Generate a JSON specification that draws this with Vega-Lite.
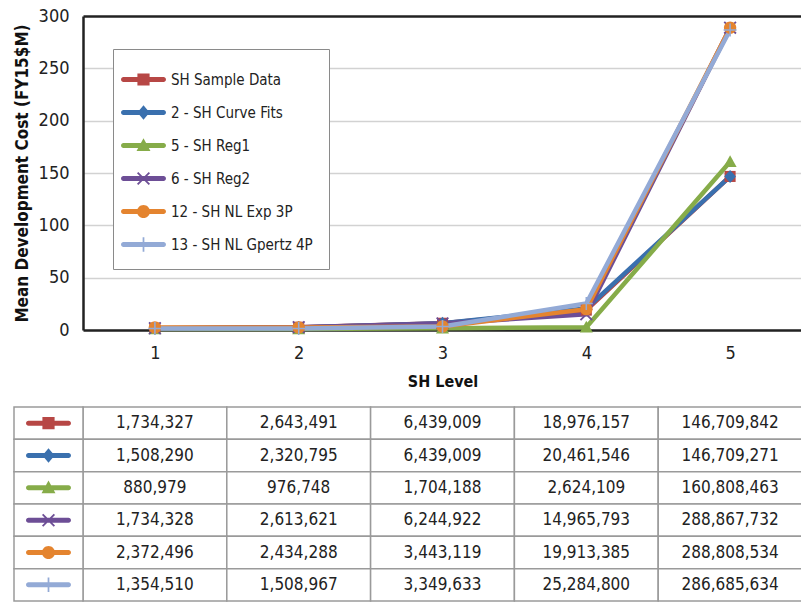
{
  "$schema": "https://vega.github.io/schema/vega-lite/v6.json",
  "padding": {"left": 13, "top": 7, "right": 0, "bottom": 0},
  "spacing": 17,
  "datasets": {
    "costs": [
      {"series": "SH Sample Data", "level": 1, "cost": 1734327},
      {"series": "SH Sample Data", "level": 2, "cost": 2643491},
      {"series": "SH Sample Data", "level": 3, "cost": 6439009},
      {"series": "SH Sample Data", "level": 4, "cost": 18976157},
      {"series": "SH Sample Data", "level": 5, "cost": 146709842},
      {"series": "2 - SH Curve Fits", "level": 1, "cost": 1508290},
      {"series": "2 - SH Curve Fits", "level": 2, "cost": 2320795},
      {"series": "2 - SH Curve Fits", "level": 3, "cost": 6439009},
      {"series": "2 - SH Curve Fits", "level": 4, "cost": 20461546},
      {"series": "2 - SH Curve Fits", "level": 5, "cost": 146709271},
      {"series": "5 - SH Reg1", "level": 1, "cost": 880979},
      {"series": "5 - SH Reg1", "level": 2, "cost": 976748},
      {"series": "5 - SH Reg1", "level": 3, "cost": 1704188},
      {"series": "5 - SH Reg1", "level": 4, "cost": 2624109},
      {"series": "5 - SH Reg1", "level": 5, "cost": 160808463},
      {"series": "6 - SH Reg2", "level": 1, "cost": 1734328},
      {"series": "6 - SH Reg2", "level": 2, "cost": 2613621},
      {"series": "6 - SH Reg2", "level": 3, "cost": 6244922},
      {"series": "6 - SH Reg2", "level": 4, "cost": 14965793},
      {"series": "6 - SH Reg2", "level": 5, "cost": 288867732},
      {"series": "12 - SH NL Exp 3P", "level": 1, "cost": 2372496},
      {"series": "12 - SH NL Exp 3P", "level": 2, "cost": 2434288},
      {"series": "12 - SH NL Exp 3P", "level": 3, "cost": 3443119},
      {"series": "12 - SH NL Exp 3P", "level": 4, "cost": 19913385},
      {"series": "12 - SH NL Exp 3P", "level": 5, "cost": 288808534},
      {"series": "13 - SH NL Gpertz 4P", "level": 1, "cost": 1354510},
      {"series": "13 - SH NL Gpertz 4P", "level": 2, "cost": 1508967},
      {"series": "13 - SH NL Gpertz 4P", "level": 3, "cost": 3349633},
      {"series": "13 - SH NL Gpertz 4P", "level": 4, "cost": 25284800},
      {"series": "13 - SH NL Gpertz 4P", "level": 5, "cost": 286685634}
    ]
  },
  "vconcat": [
    {
      "width": 719,
      "height": 314,
      "data": {"name": "costs"},
      "encoding": {
        "x": {
          "field": "level", "type": "ordinal", "title": "SH Level",
          "axis": {"labelAngle": 0, "domainColor": "#222", "domainWidth": 2.5, "ticks": false, "tickSize": 0,
                   "labelPadding": 14, "labelFontSize": 18, "labelColor": "#222",
                   "titleFontSize": 16, "titleFontWeight": "bold", "titleColor": "#111", "titlePadding": 11}
        },
        "y": {
          "field": "cost", "type": "quantitative", "title": "Mean Development Cost (FY15$M)",
          "scale": {"domain": [0, 300000000], "nice": false},
          "axis": {"values": [0, 50000000, 100000000, 150000000, 200000000, 250000000, 300000000],
                   "labelExpr": "format(datum.value / 1000000, 'd')",
                   "domainColor": "#222", "domainWidth": 2.5, "ticks": false, "tickSize": 0,
                   "labelPadding": 14, "labelFontSize": 18, "labelColor": "#222",
                   "minExtent": 45, "maxExtent": 45,
                   "grid": true,
                   "gridColor": {"condition": {"test": "datum.value >= 300000000", "value": "#222"}, "value": "#d2d2d2"},
                   "gridWidth": {"condition": {"test": "datum.value >= 300000000", "value": 2.5}, "value": 1.5},
                   "titleFontSize": 17, "titleFontWeight": "bold", "titleColor": "#111", "titlePadding": 7}
        }
      },
      "layer": [
        {
          "mark": {"type": "line", "strokeCap": "round", "strokeJoin": "round"},
          "encoding": {
            "color": {"field": "series", "type": "nominal", "legend": null,
              "scale": {"domain": ["SH Sample Data", "2 - SH Curve Fits", "5 - SH Reg1", "6 - SH Reg2", "12 - SH NL Exp 3P", "13 - SH NL Gpertz 4P"],
                        "range": ["#B74745", "#3A70AE", "#86AC49", "#6D4E96", "#E4842F", "#93AAD6"]}},
            "strokeWidth": {"field": "series", "type": "nominal", "legend": null,
              "scale": {"domain": ["SH Sample Data", "2 - SH Curve Fits", "5 - SH Reg1", "6 - SH Reg2", "12 - SH NL Exp 3P", "13 - SH NL Gpertz 4P"],
                        "range": [4.5, 4.5, 5, 4.5, 4.5, 7]}}
          }
        },
        {
          "mark": {"type": "point", "filled": true, "opacity": 1, "strokeWidth": 0, "size": 169},
          "encoding": {
            "color": {"field": "series", "type": "nominal", "legend": null,
              "scale": {"domain": ["SH Sample Data", "2 - SH Curve Fits", "5 - SH Reg1", "6 - SH Reg2", "12 - SH NL Exp 3P", "13 - SH NL Gpertz 4P"],
                        "range": ["#B74745", "#3A70AE", "#86AC49", "#6D4E96", "#E4842F", "#93AAD6"]}},
            "shape": {"field": "series", "type": "nominal", "legend": null,
              "scale": {"domain": ["SH Sample Data", "2 - SH Curve Fits", "5 - SH Reg1", "6 - SH Reg2", "12 - SH NL Exp 3P", "13 - SH NL Gpertz 4P"],
                        "range": [
                          "M-0.85,-0.85H0.85V0.85H-0.85Z",
                          "M0,-1L0.9,0L0,1L-0.9,0Z",
                          "M0,-1L1,0.8L-1,0.8Z",
                          "M-1,-0.8L-0.8,-1L1,0.8L0.8,1Z M0.8,-1L1,-0.8L-0.8,1L-1,0.8Z",
                          "M-0.95,0A0.95,0.95 0 1 1 0.95,0A0.95,0.95 0 1 1 -0.95,0Z",
                          "M-0.12,-1H0.12V1H-0.12Z M-1,-0.12H1V0.12H-1Z"
                        ]}}
          }
        },
        {
          "mark": {"type": "point", "filled": true, "opacity": 0},
          "encoding": {
            "color": {"field": "series", "type": "nominal",
              "scale": {"domain": ["SH Sample Data", "2 - SH Curve Fits", "5 - SH Reg1", "6 - SH Reg2", "12 - SH NL Exp 3P", "13 - SH NL Gpertz 4P"],
                        "range": ["#B74745", "#3A70AE", "#86AC49", "#6D4E96", "#E4842F", "#93AAD6"]},
              "legend": {"title": null, "orient": "none", "legendX": 30, "legendY": 33,
                         "padding": 16, "strokeColor": "#8a8a8a", "fillColor": "white",
                         "symbolSize": 841, "symbolOpacity": 1, "symbolStrokeWidth": 0,
                         "labelFontSize": 15, "labelColor": "#222", "labelOffset": 13, "rowPadding": 10, "labelLimit": 300}},
            "shape": {"field": "series", "type": "nominal",
              "scale": {"domain": ["SH Sample Data", "2 - SH Curve Fits", "5 - SH Reg1", "6 - SH Reg2", "12 - SH NL Exp 3P", "13 - SH NL Gpertz 4P"],
                        "range": [
                          "M-1.38,-0.17H1.38A0.17,0.17 0 0 1 1.38,0.17H-1.38A0.17,0.17 0 0 1 -1.38,-0.17Z M-0.42,-0.42H0.42V0.42H-0.42Z",
                          "M-1.38,-0.17H1.38A0.17,0.17 0 0 1 1.38,0.17H-1.38A0.17,0.17 0 0 1 -1.38,-0.17Z M0,-0.5L0.42,0L0,0.5L-0.42,0Z",
                          "M-1.38,-0.17H1.38A0.17,0.17 0 0 1 1.38,0.17H-1.38A0.17,0.17 0 0 1 -1.38,-0.17Z M0,-0.5L0.48,0.38L-0.48,0.38Z",
                          "M-1.38,-0.17H1.38A0.17,0.17 0 0 1 1.38,0.17H-1.38A0.17,0.17 0 0 1 -1.38,-0.17Z M-0.45,-0.36L-0.36,-0.45L0.45,0.36L0.36,0.45Z M0.36,-0.45L0.45,-0.36L-0.36,0.45L-0.45,0.36Z",
                          "M-1.38,-0.17H1.38A0.17,0.17 0 0 1 1.38,0.17H-1.38A0.17,0.17 0 0 1 -1.38,-0.17Z M-0.45,0A0.45,0.45 0 1 1 0.45,0A0.45,0.45 0 1 1 -0.45,0Z",
                          "M-1.38,-0.17H1.38A0.17,0.17 0 0 1 1.38,0.17H-1.38A0.17,0.17 0 0 1 -1.38,-0.17Z M-0.06,-0.5H0.06V0.5H-0.06Z"
                        ]},
              "legend": {"title": null, "orient": "none", "legendX": 30, "legendY": 33,
                         "padding": 16, "strokeColor": "#8a8a8a", "fillColor": "white",
                         "symbolSize": 841, "symbolOpacity": 1, "symbolStrokeWidth": 0,
                         "labelFontSize": 15, "labelColor": "#222", "labelOffset": 13, "rowPadding": 10, "labelLimit": 300}}
          }
        }
      ],
      "resolve": {"scale": {"color": "independent", "shape": "independent", "strokeWidth": "independent"}}
    },
    {
      "width": 719,
      "height": 194,
      "data": {"name": "costs"},
      "encoding": {
        "y": {"field": "series", "type": "nominal", "axis": null,
              "scale": {"domain": ["SH Sample Data", "2 - SH Curve Fits", "5 - SH Reg1", "6 - SH Reg2", "12 - SH NL Exp 3P", "13 - SH NL Gpertz 4P"], "paddingInner": 0, "paddingOuter": 0}}
      },
      "layer": [
        {
          "mark": {"type": "rect", "fill": "white", "stroke": "#9a9a9a", "strokeWidth": 1.5},
          "encoding": {"x": {"field": "level", "type": "ordinal", "axis": null, "scale": {"paddingInner": 0, "paddingOuter": 0}}}
        },
        {
          "mark": {"type": "text", "fontSize": 17, "color": "#222"},
          "encoding": {
            "x": {"field": "level", "type": "ordinal", "axis": null, "scale": {"paddingInner": 0, "paddingOuter": 0}},
            "text": {"field": "cost", "type": "quantitative", "format": ","}
          }
        },
        {
          "transform": [{"filter": "datum.level == 1"}],
          "mark": {"type": "rect", "fill": "white", "stroke": "#9a9a9a", "strokeWidth": 1.5},
          "encoding": {
            "x": {"datum": 0, "type": "quantitative", "axis": null, "scale": {"domain": [0, 1], "range": [-69, 0]}},
            "x2": {"datum": 1}
          }
        },
        {
          "transform": [{"filter": "datum.level == 1"}],
          "mark": {"type": "point", "filled": true, "opacity": 1, "strokeWidth": 0, "size": 841},
          "encoding": {
            "x": {"datum": 0.5, "type": "quantitative", "axis": null, "scale": {"domain": [0, 1], "range": [-69, 0]}},
            "color": {"field": "series", "type": "nominal", "legend": null,
              "scale": {"domain": ["SH Sample Data", "2 - SH Curve Fits", "5 - SH Reg1", "6 - SH Reg2", "12 - SH NL Exp 3P", "13 - SH NL Gpertz 4P"],
                        "range": ["#B74745", "#3A70AE", "#86AC49", "#6D4E96", "#E4842F", "#93AAD6"]}},
            "shape": {"field": "series", "type": "nominal", "legend": null,
              "scale": {"domain": ["SH Sample Data", "2 - SH Curve Fits", "5 - SH Reg1", "6 - SH Reg2", "12 - SH NL Exp 3P", "13 - SH NL Gpertz 4P"],
                        "range": [
                          "M-1.38,-0.17H1.38A0.17,0.17 0 0 1 1.38,0.17H-1.38A0.17,0.17 0 0 1 -1.38,-0.17Z M-0.42,-0.42H0.42V0.42H-0.42Z",
                          "M-1.38,-0.17H1.38A0.17,0.17 0 0 1 1.38,0.17H-1.38A0.17,0.17 0 0 1 -1.38,-0.17Z M0,-0.5L0.42,0L0,0.5L-0.42,0Z",
                          "M-1.38,-0.17H1.38A0.17,0.17 0 0 1 1.38,0.17H-1.38A0.17,0.17 0 0 1 -1.38,-0.17Z M0,-0.5L0.48,0.38L-0.48,0.38Z",
                          "M-1.38,-0.17H1.38A0.17,0.17 0 0 1 1.38,0.17H-1.38A0.17,0.17 0 0 1 -1.38,-0.17Z M-0.45,-0.36L-0.36,-0.45L0.45,0.36L0.36,0.45Z M0.36,-0.45L0.45,-0.36L-0.36,0.45L-0.45,0.36Z",
                          "M-1.38,-0.17H1.38A0.17,0.17 0 0 1 1.38,0.17H-1.38A0.17,0.17 0 0 1 -1.38,-0.17Z M-0.45,0A0.45,0.45 0 1 1 0.45,0A0.45,0.45 0 1 1 -0.45,0Z",
                          "M-1.38,-0.17H1.38A0.17,0.17 0 0 1 1.38,0.17H-1.38A0.17,0.17 0 0 1 -1.38,-0.17Z M-0.06,-0.5H0.06V0.5H-0.06Z"
                        ]}}
          }
        }
      ],
      "resolve": {"scale": {"x": "independent"}}
    }
  ],
  "config": {
    "font": "DejaVu Sans Condensed, sans-serif",
    "view": {"stroke": null},
    "background": "white"
  }
}
